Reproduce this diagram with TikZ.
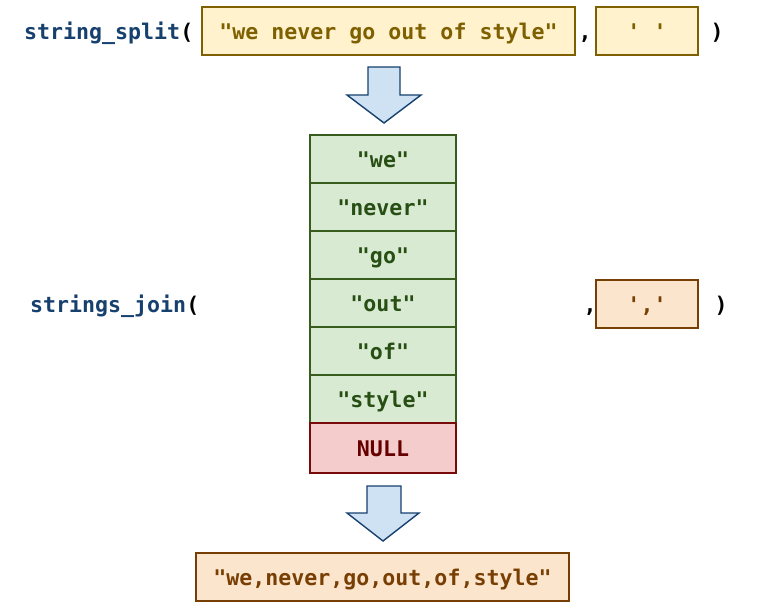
\documentclass[tikz,border=0pt]{standalone}
\usepackage{fontspec}
\setmonofont{DejaVu Sans Mono}
\definecolor{fnblue}{RGB}{22,64,110}
\definecolor{ylfill}{RGB}{255,242,204}
\definecolor{yldraw}{RGB}{127,96,0}
\definecolor{grfill}{RGB}{217,234,211}
\definecolor{grdraw}{RGB}{56,92,30}
\definecolor{grtext}{RGB}{39,78,19}
\definecolor{rdfill}{RGB}{244,204,204}
\definecolor{rddraw}{RGB}{120,10,10}
\definecolor{rdtext}{RGB}{102,0,0}
\definecolor{orfill}{RGB}{252,229,205}
\definecolor{ordraw}{RGB}{120,63,4}
\definecolor{arfill}{RGB}{207,226,243}
\definecolor{ardraw}{RGB}{22,64,110}
\tikzset{
  every node/.style={font=\ttfamily\bfseries\fontsize{21.6}{26}\selectfont, text height=18pt, text depth=1pt},
  lbl/.style={inner sep=0pt, anchor=west},
  punct/.style={inner sep=0pt, anchor=center},
  ybox/.style={draw=yldraw, fill=ylfill, text=yldraw, line width=1.6pt, inner sep=0pt, minimum height=48pt},
  gbox/.style={draw=grdraw, fill=grfill, text=grtext, line width=1.6pt, inner sep=0pt, minimum width=146pt, minimum height=48pt},
  nbox/.style={draw=rddraw, fill=rdfill, text=rdtext, line width=1.6pt, inner sep=0pt, minimum width=146pt, minimum height=48pt},
  obox/.style={draw=ordraw, fill=orfill, text=ordraw, line width=1.6pt, inner sep=0pt, minimum height=48pt},
  blockarrow/.style={draw=ardraw, fill=arfill, line width=1.4pt, line join=miter}
}
\begin{document}
\begin{tikzpicture}[x=1pt,y=-1pt]
\useasboundingbox (0,0) rectangle (780,615);
% first line
\node[lbl] (split) at (24,31) {\textcolor{fnblue}{string\_split}(};
\node[ybox, minimum width=373pt] (str) at (388.5,31) {"we never go out of style"};
\node[punct] (c1) at (585,31) {,};
\node[ybox, minimum width=102pt] (sep) at (647,31) {' '};
\node[punct] (p1) at (717,31) {)};
% arrow 1
\draw[blockarrow] (368,67) -- (400,67) -- (400,95) -- (421,95) -- (384,123) -- (347,95) -- (368,95) -- cycle;
% stack
\node[gbox] (w1) at (383,159) {"we"};
\node[gbox] (w2) at (383,207) {"never"};
\node[gbox] (w3) at (383,255) {"go"};
\node[gbox] (w4) at (383,303) {"out"};
\node[gbox] (w5) at (383,351) {"of"};
\node[gbox] (w6) at (383,399) {"style"};
\node[nbox, minimum height=50pt] (nul) at (383,448) {NULL};
% join line
\node[lbl] (join) at (30,304) {\textcolor{fnblue}{strings\_join}(};
\node[punct] (c2) at (590,304) {,};
\node[obox, minimum width=102pt] (jsep) at (647,304) {','};
\node[punct] (p2) at (721,304) {)};
% arrow 2
\draw[blockarrow] (367,486) -- (401,486) -- (401,513) -- (419,513) -- (383,541) -- (347,513) -- (367,513) -- cycle;
% result
\node[obox, minimum width=373pt] (res) at (382.5,577) {"we,never,go,out,of,style"};
\end{tikzpicture}
\end{document}
